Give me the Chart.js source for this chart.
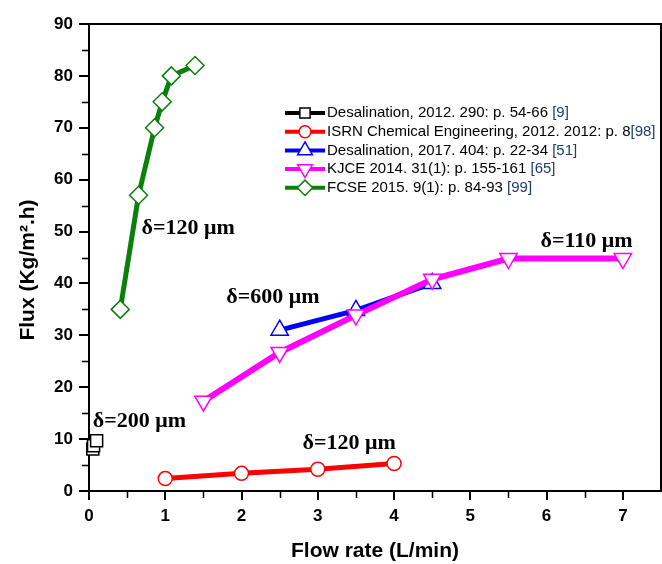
<!DOCTYPE html>
<html>
<head>
<meta charset="utf-8">
<script src="https://cdn.jsdelivr.net/npm/chart.js@4.4.0/dist/chart.umd.min.js"></script>
<style>
html, body { margin: 0; padding: 0; background: #fff; overflow: hidden; }
canvas { display: block; }
</style>
</head>
<body>
<canvas id="chart" width="662" height="564"></canvas>
<script>
// series: flow rate (L/min) vs flux (Kg/m2.h)
const desal2012_x = [0.05, 0.06, 0.1]
const desal2012_y = [8.1, 8.7, 9.7]
const isrn_x = [1, 2, 3, 4]
const isrn_y = [2.4, 3.4, 4.2, 5.3]
const desal2017_x = [2.5, 3.5, 4.5]
const desal2017_y = [31, 34.8, 40]
const kjce_x = [1.5, 2.5, 3.5, 4.5, 5.5, 7]
const kjce_y = [17.3, 26.7, 33.9, 40.8, 44.8, 44.8]
const fcse_x = [0.41, 0.65, 0.86, 0.96, 1.08, 1.39]
const fcse_y = [35, 57, 70, 75, 80, 82]

const series_labels = [
    "Desalination, 2012. 290: p. 54-66 [9]",
    "ISRN Chemical Engineering, 2012. 2012: p. 8[98]",
    "Desalination, 2017. 404: p. 22-34 [51]",
    "KJCE 2014. 31(1): p. 155-161 [65]",
    "FCSE 2015. 9(1): p. 84-93 [99]"
]
const series_colors = ["#000000", "#ff0000", "#0000ff", "#ff00ff", "#0a800a"]

const x_ticks = [0, 1, 2, 3, 4, 5, 6, 7]

// thickness annotations: text, x, y (data units)
const notes_text = ["δ=120 μm", "δ=600 μm", "δ=110 μm", "δ=200 μm", "δ=120 μm"]
const notes_x = [0.69, 1.8, 5.92, 0.05, 2.8]
const notes_y = [50.7, 37.4, 48.2, 13.5, 9.2]

const x_max = 7.5
const y_max = 90

function pts(xs, ys) {
    return xs.map((x, i) => ({ x: x, y: ys[i] }))
}

function make_set(i, xs, ys, style, radius, rotation, width, order) {
    return {
        label: series_labels[i],
        data: pts(xs, ys),
        showLine: true,
        borderColor: series_colors[i],
        borderWidth: width,
        pointStyle: style,
        pointRadius: radius,
        pointRotation: rotation,
        pointBackgroundColor: "#ffffff",
        pointBorderColor: series_colors[i],
        pointBorderWidth: 1.5,
        clip: false,
        order: order
    }
}

const datasets = [
    make_set(0, desal2012_x, desal2012_y, "rect", 8.5, 0, 4, 5),
    make_set(1, isrn_x, isrn_y, "circle", 7, 0, 5, 4),
    make_set(2, desal2017_x, desal2017_y, "triangle", 10, 0, 5, 3),
    make_set(3, kjce_x, kjce_y, "triangle", 10, 180, 6, 2),
    make_set(4, fcse_x, fcse_y, "rectRot", 9, 0, 5, 1)
]

// frame, minor ticks, axis title, notes and legend
const extras = {
    id: "extras",
    afterDraw(chart) {
        const c = chart.ctx
        const a = chart.chartArea
        const xs = chart.scales.x
        const ys = chart.scales.y
        c.save()
        c.strokeStyle = "#000"
        c.lineWidth = 2
        c.beginPath()
        c.moveTo(a.left, a.top)
        c.lineTo(a.right, a.top)
        c.lineTo(a.right, a.bottom)
        c.stroke()

        c.lineWidth = 1.5
        c.beginPath()
        for (let v = 5; v < y_max; v += 10) {
            const p = Math.round(ys.getPixelForValue(v)) + 0.5
            c.moveTo(a.left - 7, p)
            c.lineTo(a.left, p)
        }
        for (let v = 0.5; v < x_max; v += 1) {
            const p = Math.round(xs.getPixelForValue(v)) + 0.5
            c.moveTo(p, a.bottom)
            c.lineTo(p, a.bottom + 7)
        }
        c.stroke()

        // y title
        c.fillStyle = "#000"
        c.font = "bold 21px 'Liberation Sans', Arial, sans-serif"
        c.textAlign = "center"
        c.textBaseline = "middle"
        c.translate(28, 270)
        c.rotate(-Math.PI / 2)
        c.fillText("Flux (Kg/m\u00b2.h)", 0, 0)
        c.setTransform(1, 0, 0, 1, 0, 0)

        // notes
        c.font = "bold 22px 'Liberation Serif', 'Times New Roman', serif"
        c.textAlign = "left"
        notes_text.forEach((t, i) => {
            c.fillText(t, xs.getPixelForValue(notes_x[i]), ys.getPixelForValue(notes_y[i]))
        })

        // legend
        const lx = 285, ly = 113, row = 18.7
        c.font = "15px 'Liberation Sans', Arial, sans-serif"
        chart.data.datasets.forEach((ds, i) => {
            const y = ly + i * row
            c.strokeStyle = ds.borderColor
            c.lineWidth = 4
            c.beginPath()
            c.moveTo(lx, y)
            c.lineTo(lx + 40, y)
            c.stroke()
            const el = { pointStyle: ds.pointStyle, rotation: ds.pointRotation, radius: ds.pointRadius * 0.85, borderWidth: 1.5 }
            c.fillStyle = "#fff"
            c.lineWidth = 1.5
            Chart.helpers.drawPoint(c, el, lx + 20, y)
            const cut = ds.label.lastIndexOf("[")
            const main = ds.label.slice(0, cut)
            const ref = ds.label.slice(cut)
            c.fillStyle = "#000"
            c.textBaseline = "middle"
            c.fillText(main, lx + 42, y)
            const w = c.measureText(main).width
            c.fillStyle = "#1c3d6e"
            c.fillText(ref, lx + 42 + w, y)
        })
        c.restore()
    }
}

const tick_font = { family: "'Liberation Sans', Arial, sans-serif", size: 17, weight: "bold" }

new Chart(document.getElementById("chart"), {
    type: "scatter",
    data: { datasets: datasets },
    options: {
        responsive: false,
        animation: false,
        layout: { autoPadding: false, padding: { top: 24, right: 1, left: 0, bottom: 0 } },
        plugins: {
            legend: { display: false },
            tooltip: { enabled: false }
        },
        scales: {
            x: {
                type: "linear",
                min: 0,
                max: x_max,
                afterFit: (s) => { s.height = 73; s.paddingRight = 0; s.paddingLeft = 0 },
                afterBuildTicks: (s) => { s.ticks = x_ticks.map(v => ({ value: v })) },
                border: { display: true, color: "#000", width: 2 },
                grid: { display: true, drawOnChartArea: false, drawTicks: true, tickLength: 9, color: "#000", lineWidth: 2 },
                ticks: { stepSize: 1, color: "#000", font: tick_font, padding: 6, maxRotation: 0, autoSkip: false },
                title: {
                    display: true,
                    text: "Flow rate (L/min)",
                    color: "#000",
                    font: { family: "'Liberation Sans', Arial, sans-serif", size: 21, weight: "bold" },
                    padding: { top: 0, bottom: 0 }
                }
            },
            y: {
                type: "linear",
                min: 0,
                max: y_max,
                afterFit: (s) => { s.width = 89 },
                border: { display: true, color: "#000", width: 2 },
                grid: { display: true, drawOnChartArea: false, drawTicks: true, tickLength: 10, color: "#000", lineWidth: 2 },
                ticks: { stepSize: 10, color: "#000", font: tick_font, padding: 6 }
            }
        }
    },
    plugins: [extras]
})
</script>
</body>
</html>
